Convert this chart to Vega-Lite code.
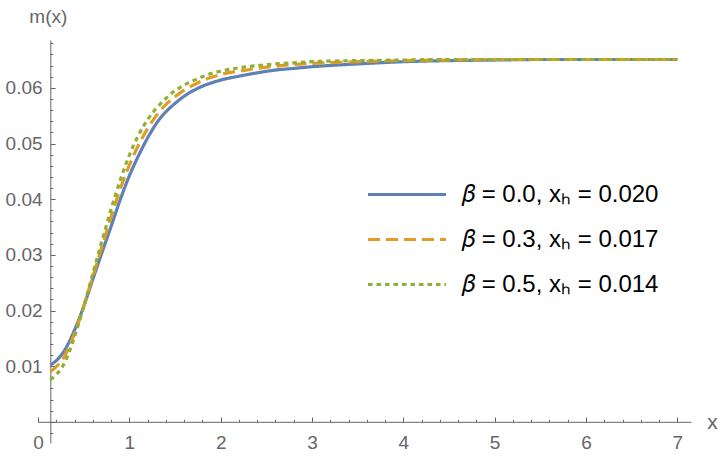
{
  "$schema": "https://vega.github.io/schema/vega-lite/v6.json",
  "width": 653,
  "height": 403,
  "autosize": {"type": "none"},
  "padding": {"left": 38, "top": 40, "right": 29, "bottom": 13},
  "background": "white",
  "config": {
    "view": {"stroke": null},
    "font": "Liberation Sans"
  },
  "data": {
    "values": [
      {"s": "𝛽 = 0.0, xₕ = 0.020", "x": 0.135, "y": 0.0102},
      {"s": "𝛽 = 0.0, xₕ = 0.020", "x": 0.2, "y": 0.0110},
      {"s": "𝛽 = 0.0, xₕ = 0.020", "x": 0.3, "y": 0.0131},
      {"s": "𝛽 = 0.0, xₕ = 0.020", "x": 0.4, "y": 0.0165},
      {"s": "𝛽 = 0.0, xₕ = 0.020", "x": 0.5, "y": 0.0207},
      {"s": "𝛽 = 0.0, xₕ = 0.020", "x": 0.6, "y": 0.0256},
      {"s": "𝛽 = 0.0, xₕ = 0.020", "x": 0.7, "y": 0.0304},
      {"s": "𝛽 = 0.0, xₕ = 0.020", "x": 0.8, "y": 0.0351},
      {"s": "𝛽 = 0.0, xₕ = 0.020", "x": 0.9, "y": 0.0399},
      {"s": "𝛽 = 0.0, xₕ = 0.020", "x": 1.0, "y": 0.0442},
      {"s": "𝛽 = 0.0, xₕ = 0.020", "x": 1.1, "y": 0.0478},
      {"s": "𝛽 = 0.0, xₕ = 0.020", "x": 1.2, "y": 0.0510},
      {"s": "𝛽 = 0.0, xₕ = 0.020", "x": 1.3, "y": 0.0537},
      {"s": "𝛽 = 0.0, xₕ = 0.020", "x": 1.4, "y": 0.0557},
      {"s": "𝛽 = 0.0, xₕ = 0.020", "x": 1.5, "y": 0.0572},
      {"s": "𝛽 = 0.0, xₕ = 0.020", "x": 1.6, "y": 0.0585},
      {"s": "𝛽 = 0.0, xₕ = 0.020", "x": 1.7, "y": 0.0595},
      {"s": "𝛽 = 0.0, xₕ = 0.020", "x": 1.8, "y": 0.0603},
      {"s": "𝛽 = 0.0, xₕ = 0.020", "x": 1.9, "y": 0.0609},
      {"s": "𝛽 = 0.0, xₕ = 0.020", "x": 2.0, "y": 0.0614},
      {"s": "𝛽 = 0.0, xₕ = 0.020", "x": 2.2, "y": 0.0621},
      {"s": "𝛽 = 0.0, xₕ = 0.020", "x": 2.4, "y": 0.0627},
      {"s": "𝛽 = 0.0, xₕ = 0.020", "x": 2.6, "y": 0.0632},
      {"s": "𝛽 = 0.0, xₕ = 0.020", "x": 2.8, "y": 0.0635},
      {"s": "𝛽 = 0.0, xₕ = 0.020", "x": 3.0, "y": 0.0638},
      {"s": "𝛽 = 0.0, xₕ = 0.020", "x": 3.5, "y": 0.0643},
      {"s": "𝛽 = 0.0, xₕ = 0.020", "x": 4.0, "y": 0.0647},
      {"s": "𝛽 = 0.0, xₕ = 0.020", "x": 4.5, "y": 0.0649},
      {"s": "𝛽 = 0.0, xₕ = 0.020", "x": 5.0, "y": 0.0650},
      {"s": "𝛽 = 0.0, xₕ = 0.020", "x": 5.5, "y": 0.0651},
      {"s": "𝛽 = 0.0, xₕ = 0.020", "x": 6.0, "y": 0.0651},
      {"s": "𝛽 = 0.0, xₕ = 0.020", "x": 7.0, "y": 0.0651},

      {"s": "𝛽 = 0.3, xₕ = 0.017", "x": 0.135, "y": 0.0090},
      {"s": "𝛽 = 0.3, xₕ = 0.017", "x": 0.2, "y": 0.0099},
      {"s": "𝛽 = 0.3, xₕ = 0.017", "x": 0.3, "y": 0.0121},
      {"s": "𝛽 = 0.3, xₕ = 0.017", "x": 0.4, "y": 0.0159},
      {"s": "𝛽 = 0.3, xₕ = 0.017", "x": 0.5, "y": 0.0207},
      {"s": "𝛽 = 0.3, xₕ = 0.017", "x": 0.6, "y": 0.0261},
      {"s": "𝛽 = 0.3, xₕ = 0.017", "x": 0.7, "y": 0.0315},
      {"s": "𝛽 = 0.3, xₕ = 0.017", "x": 0.8, "y": 0.0368},
      {"s": "𝛽 = 0.3, xₕ = 0.017", "x": 0.9, "y": 0.0418},
      {"s": "𝛽 = 0.3, xₕ = 0.017", "x": 1.0, "y": 0.0461},
      {"s": "𝛽 = 0.3, xₕ = 0.017", "x": 1.1, "y": 0.0497},
      {"s": "𝛽 = 0.3, xₕ = 0.017", "x": 1.2, "y": 0.0527},
      {"s": "𝛽 = 0.3, xₕ = 0.017", "x": 1.3, "y": 0.0551},
      {"s": "𝛽 = 0.3, xₕ = 0.017", "x": 1.4, "y": 0.0570},
      {"s": "𝛽 = 0.3, xₕ = 0.017", "x": 1.5, "y": 0.0584},
      {"s": "𝛽 = 0.3, xₕ = 0.017", "x": 1.6, "y": 0.0596},
      {"s": "𝛽 = 0.3, xₕ = 0.017", "x": 1.7, "y": 0.0605},
      {"s": "𝛽 = 0.3, xₕ = 0.017", "x": 1.8, "y": 0.0613},
      {"s": "𝛽 = 0.3, xₕ = 0.017", "x": 1.9, "y": 0.0619},
      {"s": "𝛽 = 0.3, xₕ = 0.017", "x": 2.0, "y": 0.0624},
      {"s": "𝛽 = 0.3, xₕ = 0.017", "x": 2.2, "y": 0.0630},
      {"s": "𝛽 = 0.3, xₕ = 0.017", "x": 2.4, "y": 0.0635},
      {"s": "𝛽 = 0.3, xₕ = 0.017", "x": 2.6, "y": 0.0639},
      {"s": "𝛽 = 0.3, xₕ = 0.017", "x": 2.8, "y": 0.0642},
      {"s": "𝛽 = 0.3, xₕ = 0.017", "x": 3.0, "y": 0.0644},
      {"s": "𝛽 = 0.3, xₕ = 0.017", "x": 3.5, "y": 0.0647},
      {"s": "𝛽 = 0.3, xₕ = 0.017", "x": 4.0, "y": 0.0649},
      {"s": "𝛽 = 0.3, xₕ = 0.017", "x": 4.5, "y": 0.0650},
      {"s": "𝛽 = 0.3, xₕ = 0.017", "x": 5.0, "y": 0.0651},
      {"s": "𝛽 = 0.3, xₕ = 0.017", "x": 6.0, "y": 0.0651},
      {"s": "𝛽 = 0.3, xₕ = 0.017", "x": 7.0, "y": 0.0651},

      {"s": "𝛽 = 0.5, xₕ = 0.014", "x": 0.135, "y": 0.0076},
      {"s": "𝛽 = 0.5, xₕ = 0.014", "x": 0.2, "y": 0.0085},
      {"s": "𝛽 = 0.5, xₕ = 0.014", "x": 0.3, "y": 0.0109},
      {"s": "𝛽 = 0.5, xₕ = 0.014", "x": 0.4, "y": 0.0153},
      {"s": "𝛽 = 0.5, xₕ = 0.014", "x": 0.5, "y": 0.0207},
      {"s": "𝛽 = 0.5, xₕ = 0.014", "x": 0.6, "y": 0.0266},
      {"s": "𝛽 = 0.5, xₕ = 0.014", "x": 0.7, "y": 0.0325},
      {"s": "𝛽 = 0.5, xₕ = 0.014", "x": 0.8, "y": 0.0382},
      {"s": "𝛽 = 0.5, xₕ = 0.014", "x": 0.9, "y": 0.0434},
      {"s": "𝛽 = 0.5, xₕ = 0.014", "x": 1.0, "y": 0.0479},
      {"s": "𝛽 = 0.5, xₕ = 0.014", "x": 1.1, "y": 0.0515},
      {"s": "𝛽 = 0.5, xₕ = 0.014", "x": 1.2, "y": 0.0543},
      {"s": "𝛽 = 0.5, xₕ = 0.014", "x": 1.3, "y": 0.0564},
      {"s": "𝛽 = 0.5, xₕ = 0.014", "x": 1.4, "y": 0.0581},
      {"s": "𝛽 = 0.5, xₕ = 0.014", "x": 1.5, "y": 0.0595},
      {"s": "𝛽 = 0.5, xₕ = 0.014", "x": 1.6, "y": 0.0605},
      {"s": "𝛽 = 0.5, xₕ = 0.014", "x": 1.7, "y": 0.0613},
      {"s": "𝛽 = 0.5, xₕ = 0.014", "x": 1.8, "y": 0.0620},
      {"s": "𝛽 = 0.5, xₕ = 0.014", "x": 1.9, "y": 0.0626},
      {"s": "𝛽 = 0.5, xₕ = 0.014", "x": 2.0, "y": 0.0630},
      {"s": "𝛽 = 0.5, xₕ = 0.014", "x": 2.2, "y": 0.0636},
      {"s": "𝛽 = 0.5, xₕ = 0.014", "x": 2.4, "y": 0.0640},
      {"s": "𝛽 = 0.5, xₕ = 0.014", "x": 2.6, "y": 0.0643},
      {"s": "𝛽 = 0.5, xₕ = 0.014", "x": 2.8, "y": 0.0645},
      {"s": "𝛽 = 0.5, xₕ = 0.014", "x": 3.0, "y": 0.0647},
      {"s": "𝛽 = 0.5, xₕ = 0.014", "x": 3.5, "y": 0.0649},
      {"s": "𝛽 = 0.5, xₕ = 0.014", "x": 4.0, "y": 0.0650},
      {"s": "𝛽 = 0.5, xₕ = 0.014", "x": 4.5, "y": 0.0651},
      {"s": "𝛽 = 0.5, xₕ = 0.014", "x": 5.0, "y": 0.0651},
      {"s": "𝛽 = 0.5, xₕ = 0.014", "x": 7.0, "y": 0.0651}
    ]
  },
  "mark": {"type": "line", "interpolate": "monotone", "strokeWidth": 3.2, "strokeCap": "butt", "clip": false},
  "encoding": {
    "x": {
      "field": "x", "type": "quantitative",
      "scale": {"domain": [0, 7.15], "nice": false, "zero": false},
      "axis": {
        "orient": "bottom", "offset": -21.2, "grid": false,
        "values": [0,0.2,0.4,0.6,0.8,1,1.2,1.4,1.6,1.8,2,2.2,2.4,2.6,2.8,3,3.2,3.4,3.6,3.8,4,4.2,4.4,4.6,4.8,5,5.2,5.4,5.6,5.8,6,6.2,6.4,6.6,6.8,7],
        "format": ".0f",
        "labelExpr": "abs(datum.value - round(datum.value)) < 1e-6 ? datum.label : ''",
        "labelOverlap": false, "labelFlush": false,
        "labelFont": "Liberation Sans", "labelFontSize": 19, "labelColor": "#666666",
        "labelPadding": 16, "labelBaseline": "top",
        "domainColor": "#666666", "domainWidth": 1,
        "tickColor": "#666666", "tickWidth": 1,
        "tickSize": {"condition": {"test": "abs(datum.value - round(datum.value)) < 1e-6", "value": -4.8}, "value": -2.5},
        "title": "x", "titleX": 674, "titleY": 1, "titleAlign": "center", "titleBaseline": "middle",
        "titleFont": "Liberation Sans", "titleFontSize": 21, "titleFontWeight": "normal", "titleColor": "#666666", "titleAngle": 0
      }
    },
    "y": {
      "field": "y", "type": "quantitative",
      "scale": {"domain": [-0.0038, 0.0686], "nice": false, "zero": false},
      "axis": {
        "orient": "left", "offset": -12.3, "grid": false,
        "values": [-0.002,0,0.002,0.004,0.006,0.008,0.01,0.012,0.014,0.016,0.018,0.02,0.022,0.024,0.026,0.028,0.03,0.032,0.034,0.036,0.038,0.04,0.042,0.044,0.046,0.048,0.05,0.052,0.054,0.056,0.058,0.06,0.062,0.064,0.066,0.068],
        "format": ".2f",
        "labelExpr": "(abs(datum.value*100 - round(datum.value*100)) < 1e-6 && abs(datum.value) > 1e-9) ? datum.label : ''",
        "labelOverlap": false, "labelFlush": false,
        "labelFont": "Liberation Sans", "labelFontSize": 19, "labelColor": "#666666",
        "labelPadding": 13, "labelBaseline": "middle",
        "domainColor": "#666666", "domainWidth": 1,
        "tickColor": "#666666", "tickWidth": 1,
        "tickSize": {"condition": {"test": "abs(datum.value*100 - round(datum.value*100)) < 1e-6", "value": -4.8}, "value": -2.5},
        "title": "m(x)", "titleX": -2.5, "titleY": -24, "titleAlign": "center", "titleBaseline": "middle",
        "titleFont": "Liberation Sans", "titleFontSize": 19, "titleFontWeight": "normal", "titleColor": "#666666", "titleAngle": 0
      }
    },
    "color": {
      "field": "s", "type": "nominal",
      "scale": {"domain": ["𝛽 = 0.0, xₕ = 0.020", "𝛽 = 0.3, xₕ = 0.017", "𝛽 = 0.5, xₕ = 0.014"], "range": ["#5E81B5", "#E19C24", "#8FB032"]},
      "legend": {
        "orient": "none", "legendX": 328, "legendY": 133, "title": null, "padding": 0,
        "symbolType": "M-1,0H3", "symbolSize": 1521, "symbolStrokeWidth": 3.2,
        "labelFont": "Liberation Sans", "labelFontSize": 24, "labelColor": "black", "labelOffset": 53, "labelLimit": 500,
        "rowPadding": 11
      }
    },
    "strokeDash": {
      "field": "s", "type": "nominal",
      "scale": {"domain": ["𝛽 = 0.0, xₕ = 0.020", "𝛽 = 0.3, xₕ = 0.017", "𝛽 = 0.5, xₕ = 0.014"], "range": [[1, 0], [12, 6], [4.5, 4]]},
      "legend": {
        "orient": "none", "legendX": 328, "legendY": 133, "title": null, "padding": 0,
        "symbolType": "M-1,0H3", "symbolSize": 1521, "symbolStrokeWidth": 3.2,
        "labelFont": "Liberation Sans", "labelFontSize": 24, "labelColor": "black", "labelOffset": 53, "labelLimit": 500,
        "rowPadding": 11
      }
    }
  }
}
